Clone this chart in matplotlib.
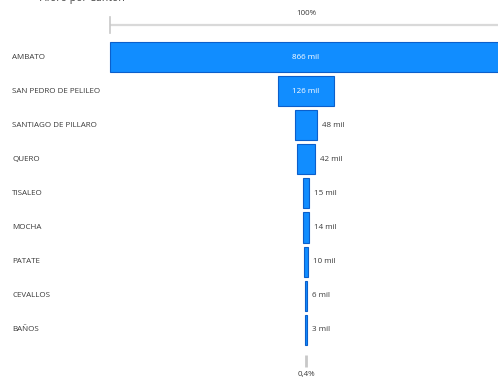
import matplotlib
matplotlib.use("Agg")
import matplotlib.pyplot as plt
from matplotlib.transforms import blended_transform_factory

# Aforo por cantón (miles de personas)
cantones = ["AMBATO", "SAN PEDRO DE PELILEO", "SANTIAGO DE PILLARO", "QUERO",
            "TISALEO", "MOCHA", "PATATE", "CEVALLOS", "BAÑOS"]
aforo_mil = [866.2, 125.8, 47.9, 41.8, 14.9, 13.7, 10.2, 5.9, 3.3]

W, H, DPI = 498, 384, 100
plt.rcParams["font.family"] = ["Open Sans", "DejaVu Sans"]

fig = plt.figure(figsize=(W / DPI, H / DPI), dpi=DPI)
ax = fig.add_axes([0, 0, 1, 1])
ax.set_axis_off()

# escala: el embudo esta centrado en x=306 px y el mayor valor ocupa 392 px
cx, full_px = 306, 392
k = max(aforo_mil) / full_px
ax.set_xlim(-cx * k, (W - cx) * k)
row0, step = 57, 34.1
ax.set_ylim((H - row0) / step, -row0 / step)

bar_color = "#118DFF"
edge_color = "#0B5FCB"
ys = list(range(len(cantones)))
lefts = [-v / 2 for v in aforo_mil]
ax.barh(ys, aforo_mil, left=lefts, height=0.88, color=bar_color,
        edgecolor=edge_color, linewidth=0.8)

fs = 5.8
txt_color = "#3A3A3A"
label_tr = blended_transform_factory(fig.transFigure, ax.transData)
for y, name, v in zip(ys, cantones, aforo_mil):
    ax.text(12 / W, y, name, transform=label_tr, ha="left", va="center",
            fontsize=fs, color=txt_color)
    txt = f"{v:.0f} mil"
    if v / k > 40:
        ax.text(0, y, txt, ha="center", va="center", fontsize=fs, color="white")
    else:
        ax.text(v / 2 + 5 * k, y, txt, ha="left", va="center",
                fontsize=fs, color=txt_color)

# linea superior (100%) e inferior (ultimo / primero)
top_y = (25 - row0) / step
half = max(aforo_mil) / 2
ax.plot([-half, half], [top_y, top_y], color="#D9D9D9", lw=1.6,
        solid_capstyle="butt")
ax.plot([-half, -half], [top_y - 0.24, top_y + 0.24], color="#C8C8C8", lw=1.2)
ax.text(0, (13 - row0) / step, "100%", ha="center", va="center",
        fontsize=fs, color=txt_color)

ratio = aforo_mil[-1] / aforo_mil[0] * 100
bot_y = (361 - row0) / step
ax.plot([0, 0], [bot_y - 0.19, bot_y + 0.19], color="#C8C8C8", lw=2,
        solid_capstyle="butt")
ax.text(0, (375 - row0) / step, f"{ratio:.1f}%".replace(".", ","),
        ha="center", va="center", fontsize=fs, color=txt_color)

fig.text(40 / W, 1 - 1 / H, "Aforo por Cantón", ha="left", va="baseline",
         fontsize=7.5, color="#404040")

fig.savefig("out.png", dpi=DPI)
